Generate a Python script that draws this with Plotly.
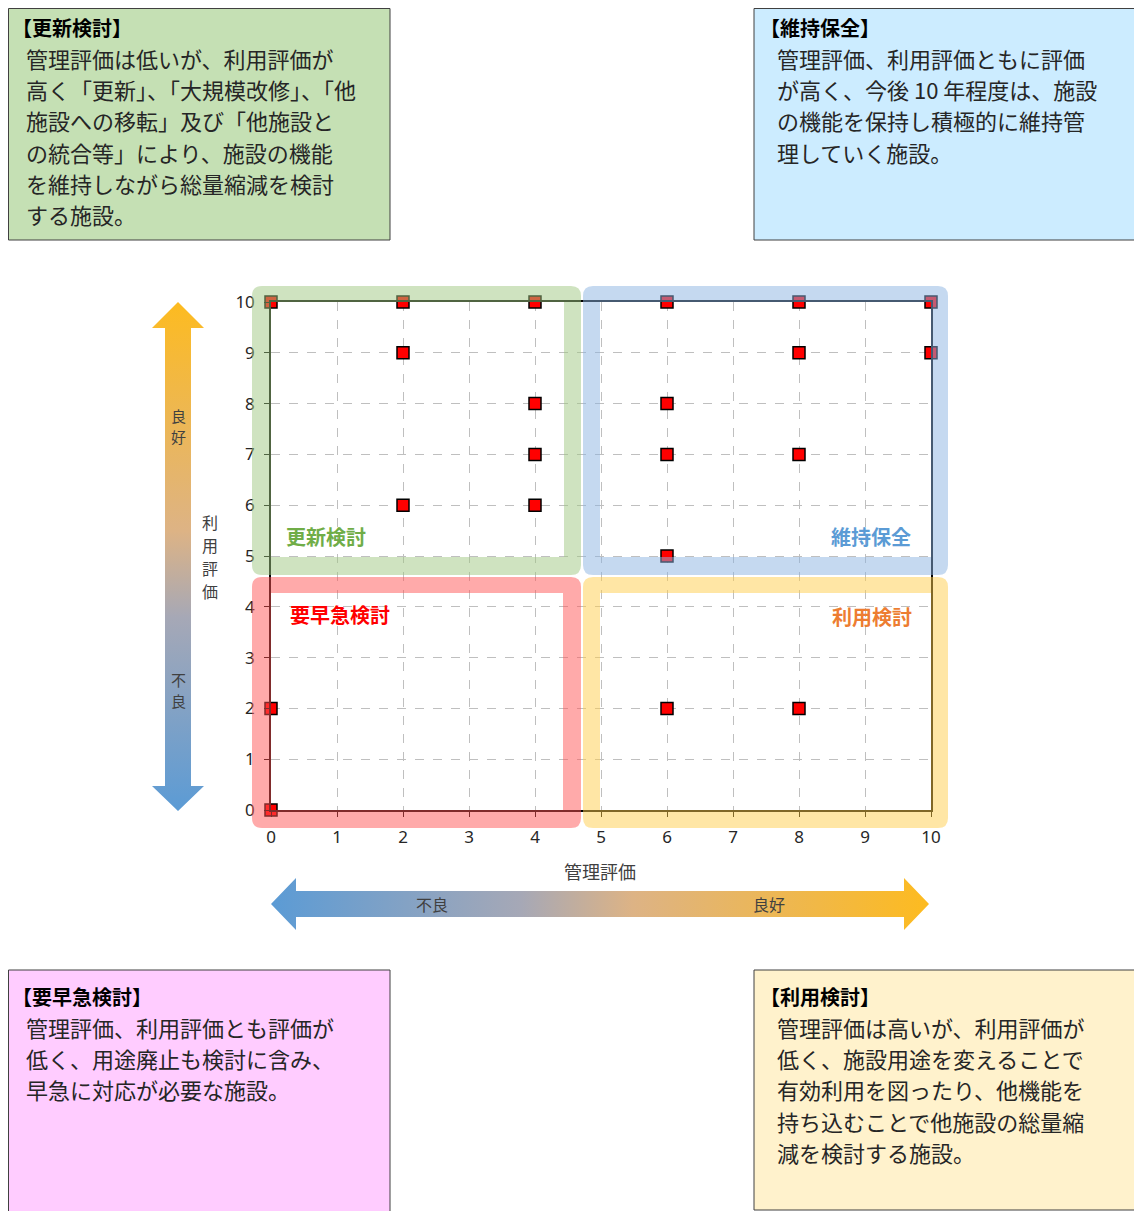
import plotly.graph_objects as go

# 施設の評価データ (管理評価 x, 利用評価 y)
kanri_hyoka = [0, 2, 4, 6, 8, 10, 2, 8, 10, 4, 6, 4, 6, 8, 2, 4, 6, 0, 6, 8, 0]
riyou_hyoka = [10, 10, 10, 10, 10, 10, 9, 9, 9, 8, 8, 7, 7, 7, 6, 6, 5, 2, 2, 2, 0]
tick_vals = [0, 1, 2, 3, 4, 5, 6, 7, 8, 9, 10]

# 説明ボックスのテキスト
box_koushin = ["【更新検討】",
               "管理評価は低いが、利用評価が",
               "高く「更新」、「大規模改修」、「他",
               "施設への移転」及び「他施設と",
               "の統合等」により、施設の機能",
               "を維持しながら総量縮減を検討",
               "する施設。"]
box_iji = ["【維持保全】",
           "管理評価、利用評価ともに評価",
           "が高く、今後 10 年程度は、施設",
           "の機能を保持し積極的に維持管",
           "理していく施設。"]
box_youkyuu = ["【要早急検討】",
               "管理評価、利用評価とも評価が",
               "低く、用途廃止も検討に含み、",
               "早急に対応が必要な施設。"]
box_riyou = ["【利用検討】",
             "管理評価は高いが、利用評価が",
             "低く、施設用途を変えることで",
             "有効利用を図ったり、他機能を",
             "持ち込むことで他施設の総量縮",
             "減を検討する施設。"]

quad_labels = ["更新検討", "維持保全", "要早急検討", "利用検討"]

W, H = 1142, 1211
OX, OY = 8, 8   # ページ余白 (body margin) の分だけずらす
JP = "Noto Sans CJK JP"
TXT = "#262626"

fig = go.Figure()

# 矢印 (グラデーション) - ピクセル座標の補助軸 x2/y2
v_x = [178, 204, 191, 191, 204, 178, 152, 165, 165, 152, 178]
v_y = [302, 328, 328, 786, 786, 811, 786, 786, 328, 328, 302]
fig.add_trace(go.Scatter(
    x=v_x, y=v_y, xaxis="x2", yaxis="y2", mode="lines", fill="toself",
    line=dict(width=0), hoverinfo="skip",
    fillgradient=dict(type="vertical", start=302, stop=811,
                      colorscale=[[0, "#FDBB20"], [0.45, "#DDB385"],
                                  [0.62, "#A6A8B6"], [1, "#5B9BD5"]])))

h_x = [271, 296, 296, 904, 904, 929, 904, 904, 296, 296, 271]
h_y = [904, 878, 891, 891, 878, 904, 930, 917, 917, 930, 904]
fig.add_trace(go.Scatter(
    x=h_x, y=h_y, xaxis="x2", yaxis="y2", mode="lines", fill="toself",
    line=dict(width=0), hoverinfo="skip",
    fillgradient=dict(type="horizontal", start=271, stop=929,
                      colorscale=[[0, "#5B9BD5"], [0.38, "#A6A8B6"],
                                  [0.55, "#DDB385"], [1, "#FDBB20"]])))

# 散布図
fig.add_trace(go.Scatter(
    x=kanri_hyoka, y=riyou_hyoka, mode="markers", cliponaxis=False,
    marker=dict(symbol="square", size=12, color="#FF0000",
                line=dict(color="black", width=1.5)),
    hovertemplate="管理評価 %{x}<br>利用評価 %{y}<extra></extra>"))


def band_path(outer, inner, r):
    x0, y0, x1, y1 = outer
    ix0, iy0, ix1, iy1 = inner
    p = (f"M{x0+r},{y0} L{x1-r},{y0} Q{x1},{y0} {x1},{y0+r} "
         f"L{x1},{y1-r} Q{x1},{y1} {x1-r},{y1} L{x0+r},{y1} "
         f"Q{x0},{y1} {x0},{y1-r} L{x0},{y0+r} Q{x0},{y0} {x0+r},{y0} Z ")
    p += f"M{ix0},{iy0} L{ix0},{iy1} L{ix1},{iy1} L{ix1},{iy0} Z"
    return p


bands = [
    ((252, 286, 581, 575), (271, 302, 564, 557), "rgba(160,200,130,0.5)"),
    ((583, 286, 948, 575), (600, 302, 931, 557), "rgba(140,180,225,0.5)"),
    ((252, 577, 581, 828), (271, 593, 563, 810), "rgba(255,85,85,0.5)"),
    ((583, 577, 948, 828), (600, 593, 931, 810), "rgba(255,205,75,0.5)"),
]
shapes = []
for outer, inner, col in bands:
    shapes.append(dict(type="path", xref="x2", yref="y2", layer="above",
                       path=band_path(outer, inner, 10),
                       fillcolor=col, line=dict(width=0)))

# 説明ボックス
boxes = [
    (box_koushin, (8.5, 8.5, 390, 240), "#C5E0B4"),
    (box_iji, (754, 8.5, 1141, 240), "#CCECFF"),
    (box_youkyuu, (8.5, 970, 390, 1212), "#FFCCFF"),
    (box_riyou, (754, 970, 1141, 1210), "#FFF2CC"),
]
annotations = []
for lines, (x0, y0, x1, y1), col in boxes:
    shapes.append(dict(type="rect", xref="x2", yref="y2", x0=x0, y0=y0,
                       x1=x1, y1=y1, fillcolor=col,
                       line=dict(color="#404040", width=1)))
    lx = 3 if x0 < 100 else x0
    ty = 1 if y0 < 100 else y0
    annotations.append(dict(x=max(lx + 4, 10), y=ty + 26, xref="x2", yref="y2",
                            text="<b>" + lines[0] + "</b>", showarrow=False,
                            xanchor="left", yanchor="middle",
                            font=dict(family=JP, size=20, color="black")))
    for i, line in enumerate(lines[1:]):
        annotations.append(dict(x=lx + 21, y=ty + 57 + i * 31.2,
                                xref="x2", yref="y2", text=line,
                                showarrow=False, xanchor="left",
                                yanchor="middle",
                                font=dict(family=JP, size=22, color=TXT)))

# 象限ラベル
quad_pos = [(326, 536, "#70AD47"), (871, 536, "#5B9BD5"),
            (340, 614, "#FF0000"), (872, 616, "#ED7D31")]
for lab, (qx, qy, qc) in zip(quad_labels, quad_pos):
    annotations.append(dict(x=qx, y=qy, xref="x2", yref="y2",
                            text="<b>" + lab + "</b>", showarrow=False,
                            font=dict(family=JP, size=20, color=qc)))

# 軸タイトル・矢印ラベル (縦書きは一文字ずつ)
small = [
    (600, 871, "管理評価", 18),
    (432, 904, "不良", 16),
    (769, 904, "良好", 16),
]
vertical = [
    (210, 522, 23, "利用評価", 16),
    (178, 415, 21, "良好", 15),
    (178, 679, 21, "不良", 15),
]
for vx, vy, step, word, vs in vertical:
    for k, ch in enumerate(word):
        small.append((vx, vy + k * step, ch, vs))
for sx, sy, st, ss in small:
    annotations.append(dict(x=sx, y=sy, xref="x2", yref="y2", text=st,
                            showarrow=False,
                            font=dict(family=JP, size=ss, color="#404040")))

axis_common = dict(
    range=[0, 10], tickvals=tick_vals, showgrid=True, gridcolor="#BFBFBF",
    griddash="dash", gridwidth=1, zeroline=False, showline=True,
    linecolor="black", linewidth=1.5, mirror=True, ticks="outside",
    ticklen=5, tickcolor="black", ticklabelstandoff=6, automargin=False,
    tickfont=dict(family="Noto Sans", size=17, color=TXT), fixedrange=True)

fig.update_layout(
    width=W, height=H,
    margin=dict(l=0, r=0, t=0, b=0, autoexpand=False),
    paper_bgcolor="white",
    plot_bgcolor="rgba(0,0,0,0)",
    showlegend=False,
    xaxis=dict(domain=[(271 - OX) / W, (931 - OX) / W], anchor="y", **axis_common),
    yaxis=dict(domain=[(H - 810 + OY) / H, (H - 302 + OY) / H], anchor="x",
               **axis_common),
    xaxis2=dict(domain=[0, 1], range=[OX, W + OX], anchor="y2", visible=False,
                fixedrange=True),
    yaxis2=dict(domain=[0, 1], range=[H + OY, OY], anchor="x2", visible=False,
                fixedrange=True),
    shapes=shapes,
    annotations=annotations,
)

fig.write_html("out.html")
